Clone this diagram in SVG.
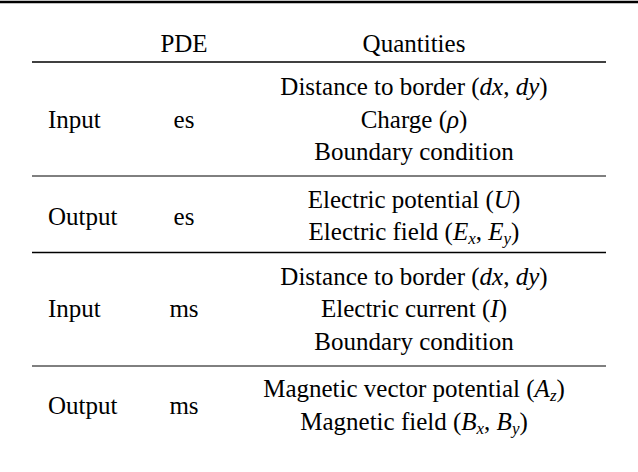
<svg xmlns="http://www.w3.org/2000/svg" width="638" height="472" viewBox="0 0 638 472" font-family="Liberation Serif, DejaVu Serif, serif">
<style>
text{font-size:25px;fill:#000}
.c{text-anchor:middle}
.i{font-style:italic}
line{stroke:#000}
</style>
<rect width="638" height="472" fill="#fff"/>
<g id="rules">
<line x1="0" y1="2" x2="638" y2="2" stroke-width="2.5"/>
<line x1="32" y1="62" x2="606" y2="62" stroke-width="1.3"/>
<line x1="32" y1="176" x2="606" y2="176" stroke-width="1"/>
<line x1="32" y1="252.5" x2="606" y2="252.5" stroke-width="1.3"/>
<line x1="32" y1="366" x2="606" y2="366" stroke-width="1"/>
</g>
<g id="header">
<text class="c" x="184" y="52">PDE</text>
<text class="c" x="414" y="52">Quantities</text>
</g>
<g id="row1">
<text x="48" y="128">Input</text>
<text class="c" x="184" y="128">es</text>
<text class="c" x="414" y="95">Distance to border (<tspan class="i">dx</tspan>, <tspan class="i">dy</tspan>)</text>
<text class="c" x="414" y="128">Charge (<tspan class="i">ρ</tspan>)</text>
<text class="c" x="414" y="160">Boundary condition</text>
</g>
<g id="row2">
<text x="48" y="225">Output</text>
<text class="c" x="184" y="225">es</text>
<text class="c" x="414" y="208">Electric potential (<tspan class="i">U</tspan>)</text>
<text class="c" x="414" y="240">Electric field (<tspan class="i">E</tspan><tspan class="i" font-size="17" dy="4">x</tspan><tspan dy="-4">, </tspan><tspan class="i">E</tspan><tspan class="i" font-size="17" dy="4">y</tspan><tspan dy="-4">)</tspan></text>
</g>
<g id="row3">
<text x="48" y="317">Input</text>
<text class="c" x="184" y="317">ms</text>
<text class="c" x="414" y="285">Distance to border (<tspan class="i">dx</tspan>, <tspan class="i">dy</tspan>)</text>
<text class="c" x="414" y="317">Electric current (<tspan class="i">I</tspan>)</text>
<text class="c" x="414" y="350">Boundary condition</text>
</g>
<g id="row4">
<text x="48" y="414">Output</text>
<text class="c" x="184" y="414">ms</text>
<text class="c" x="414" y="397">Magnetic vector potential (<tspan class="i">A</tspan><tspan class="i" font-size="17" dy="4">z</tspan><tspan dy="-4">)</tspan></text>
<text class="c" x="414" y="430">Magnetic field (<tspan class="i">B</tspan><tspan class="i" font-size="17" dy="4">x</tspan><tspan dy="-4">, </tspan><tspan class="i">B</tspan><tspan class="i" font-size="17" dy="4">y</tspan><tspan dy="-4">)</tspan></text>
</g>
</svg>
